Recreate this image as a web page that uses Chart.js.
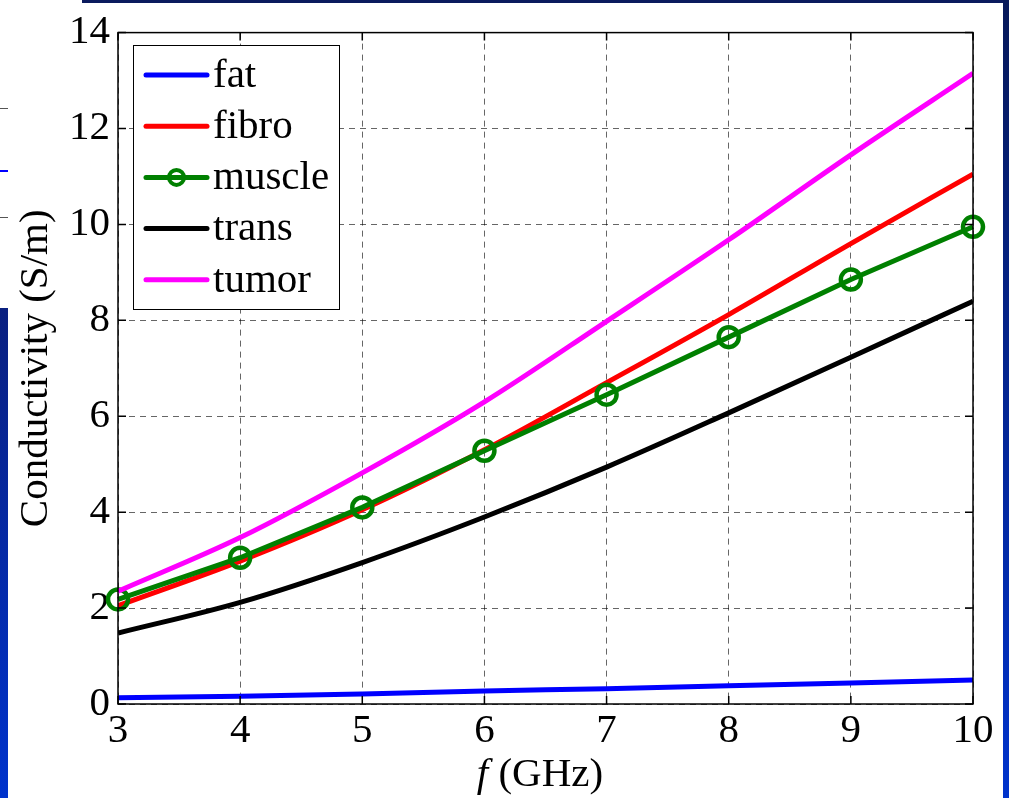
<!DOCTYPE html>
<html>
<head>
<meta charset="utf-8">
<script src="https://cdn.jsdelivr.net/npm/chart.js@4.4.1/dist/chart.umd.min.js"></script>
<style>
  html, body { margin: 0; padding: 0; background: #ffffff; }
  #wrap { position: relative; width: 1009px; height: 798px; overflow: hidden; }
  #chart { position: absolute; left: 0; top: 0; }
  .deco { position: absolute; }
</style>
</head>
<body>
<div id="wrap">
  <div class="deco" style="left:82px;top:0;width:927px;height:3px;background:#0b1b5e;"></div>
  <div class="deco" style="left:1003px;top:0;width:6px;height:798px;background:linear-gradient(#07195a,#0033cc);"></div>
  <div class="deco" style="left:0;top:308px;width:8px;height:490px;background:linear-gradient(#0a2080,#0033cc);"></div>
  <div class="deco" style="left:0;top:108px;width:8px;height:1px;background:#555;"></div>
  <div class="deco" style="left:0;top:170px;width:8px;height:2px;background:#0000ff;"></div>
  <div class="deco" style="left:0;top:217px;width:8px;height:1px;background:#555;"></div>
  <canvas id="chart" width="1009" height="798"></canvas>
</div>
<script>
// frequency in GHz
var freq = [3, 4, 5, 6, 7, 8, 9, 10];

// conductivity in S/m
var fat    = [0.13, 0.16, 0.21, 0.27, 0.32, 0.38, 0.44, 0.50];
var fibro  = [2.05, 2.98, 4.05, 5.30, 6.70, 8.12, 9.60, 11.05];
var muscle = [2.18, 3.05, 4.10, 5.28, 6.45, 7.65, 8.85, 9.95];
var trans  = [1.48, 2.12, 2.95, 3.90, 4.94, 6.07, 7.23, 8.40];
var tumor  = [2.35, 3.47, 4.82, 6.30, 7.98, 9.68, 11.45, 13.15];

var seriesNames = ['fat', 'fibro', 'muscle', 'trans', 'tumor'];
var yTicks = [0, 2, 4, 6, 8, 10, 12, 14];

var SERIF = '"Liberation Serif", "Times New Roman", serif';

function pts(vals) {
    return vals.map(function (v, i) { return { x: freq[i], y: v }; });
}

function lineSet(label, vals, color, order) {
    return {
        label: label,
        data: pts(vals),
        borderColor: color,
        backgroundColor: color,
        borderWidth: 5,
        pointRadius: 0,
        cubicInterpolationMode: 'monotone',
        order: order
    };
}

var datasets = [
    lineSet(seriesNames[0], fat, '#0000ff', 4),
    lineSet(seriesNames[1], fibro, '#ff0000', 3),
    {
        label: seriesNames[2],
        data: pts(muscle),
        borderColor: '#008000',
        backgroundColor: '#008000',
        borderWidth: 5,
        pointRadius: 10,
        pointBorderWidth: 4.5,
        pointBackgroundColor: 'rgba(0,0,0,0)',
        pointBorderColor: '#008000',
        tension: 0,
        clip: false,
        order: 2,
        marker: true
    },
    lineSet(seriesNames[3], trans, '#000000', 1),
    lineSet(seriesNames[4], tumor, '#ff00ff', 0)
];

// box, inside ticks, x title and the legend, MATLAB style
var matlabDecor = {
    id: 'matlabDecor',
    afterDatasetsDraw: function (chart) {
        var ctx = chart.ctx;
        var a = chart.chartArea;
        var xs = chart.scales.x, ys = chart.scales.y;
        ctx.save();
        ctx.strokeStyle = '#000';
        ctx.lineWidth = 1.5;
        ctx.setLineDash([]);
        ctx.strokeRect(a.left, a.top, a.right - a.left, a.bottom - a.top);
        var tl = 8;
        ctx.beginPath();
        xs.ticks.forEach(function (t) {
            var px = xs.getPixelForValue(t.value);
            ctx.moveTo(px, a.bottom); ctx.lineTo(px, a.bottom - tl);
            ctx.moveTo(px, a.top); ctx.lineTo(px, a.top + tl);
        });
        ys.ticks.forEach(function (t) {
            var py = ys.getPixelForValue(t.value);
            ctx.moveTo(a.left, py); ctx.lineTo(a.left + tl, py);
            ctx.moveTo(a.right, py); ctx.lineTo(a.right - tl, py);
        });
        ctx.stroke();

        // x axis title: italic f followed by (GHz)
        ctx.fillStyle = '#000';
        ctx.textBaseline = 'middle';
        ctx.textAlign = 'left';
        var fItal = 'italic 41px ' + SERIF;
        var fNorm = '41px ' + SERIF;
        ctx.font = fItal;
        var w1 = ctx.measureText('f').width;
        ctx.font = fNorm;
        var w2 = ctx.measureText(' (GHz)').width;
        var cx = 540, cy = 775;
        var x0 = cx - (w1 + w2) / 2;
        ctx.font = fItal;
        ctx.fillText('f', x0, cy);
        ctx.font = fNorm;
        ctx.fillText(' (GHz)', x0 + w1, cy);

        // legend
        var bx = 133, by = 45, bw = 206, bh = 264;
        ctx.fillStyle = '#fff';
        ctx.fillRect(bx, by, bw, bh);
        ctx.strokeStyle = '#000';
        ctx.lineWidth = 1;
        ctx.strokeRect(bx + 0.5, by + 0.5, bw, bh);
        ctx.font = '41px ' + SERIF;
        chart.data.datasets.forEach(function (ds, i) {
            var ly = 75 + i * 51.2;
            ctx.strokeStyle = ds.borderColor;
            ctx.lineWidth = 5;
            ctx.lineCap = 'round';
            ctx.beginPath();
            ctx.moveTo(146, ly);
            ctx.lineTo(207, ly);
            ctx.stroke();
            if (ds.marker) {
                ctx.lineWidth = 4;
                ctx.beginPath();
                ctx.arc(176.5, ly, 7.5, 0, Math.PI * 2);
                ctx.stroke();
            }
            ctx.fillStyle = '#000';
            ctx.fillText(ds.label, 213, ly + 1);
        });
        ctx.restore();
    }
};

new Chart(document.getElementById('chart'), {
    type: 'line',
    data: { datasets: datasets },
    options: {
        responsive: false,
        animation: false,
        layout: { padding: { top: 30, right: 36, left: 0, bottom: 0 } },
        plugins: {
            legend: { display: false },
            tooltip: { enabled: false }
        },
        scales: {
            x: {
                type: 'linear',
                min: 3,
                max: 10,
                afterFit: function (s) { s.height = 94; },
                afterBuildTicks: function (s) {
                    s.ticks = freq.map(function (v) { return { value: v }; });
                },
                ticks: {
                    color: '#000',
                    padding: 3,
                    font: { family: SERIF, size: 41 },
                    maxRotation: 0
                },
                grid: { color: 'rgba(0,0,0,0.6)', lineWidth: 1, drawTicks: false },
                border: { display: false, dash: [6, 5] }
            },
            y: {
                min: 0,
                max: 14,
                afterFit: function (s) { s.width = 118; },
                afterBuildTicks: function (s) {
                    s.ticks = yTicks.map(function (v) { return { value: v }; });
                },
                ticks: {
                    color: '#000',
                    padding: 8,
                    font: { family: SERIF, size: 41 }
                },
                title: {
                    display: true,
                    text: 'Conductivity (S/m)',
                    color: '#000',
                    font: { family: SERIF, size: 41, lineHeight: 1 },
                    padding: { top: 16, bottom: 0 }
                },
                grid: { color: 'rgba(0,0,0,0.6)', lineWidth: 1, drawTicks: false },
                border: { display: false, dash: [6, 5] }
            }
        }
    },
    plugins: [matlabDecor]
});
</script>
</body>
</html>
